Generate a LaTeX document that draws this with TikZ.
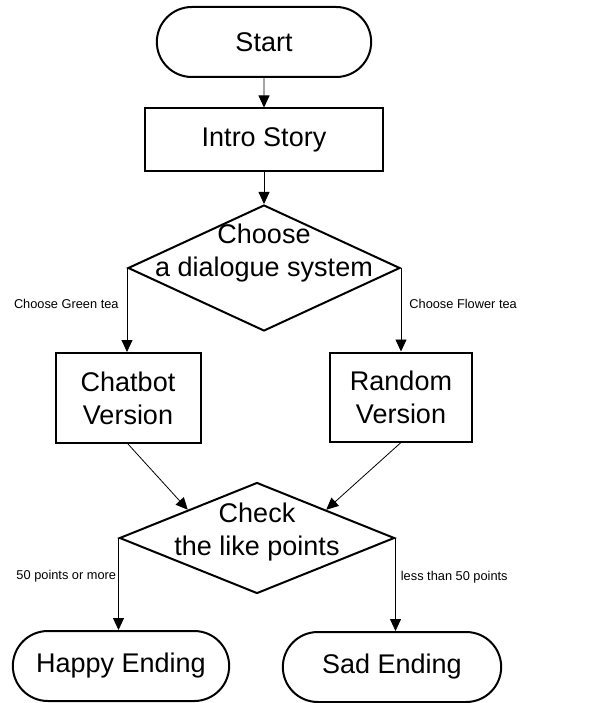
\documentclass[tikz,border=0pt]{standalone}
\usepackage{fontspec}
\setmainfont{Liberation Sans}
\usetikzlibrary{shapes.geometric,shapes.misc,arrows.meta}
\tikzset{
  big/.style={font=\fontsize{27}{33}\selectfont},
  small/.style={font=\fontsize{12.8}{14}\selectfont,inner sep=1pt},
  flow/.style={-{Triangle[length=12pt,width=11pt]},line width=0.8pt},
  terminal/.style={rounded rectangle,draw,line width=2pt,big,minimum
    width=#1,minimum height=70pt},
  block/.style={rectangle,draw,line width=2pt,big,align=center,minimum
    width=#1},
  decision/.style={diamond,draw,line width=2pt,inner sep=0pt,minimum
    width=#1}
}
\begin{document}
\begin{tikzpicture}[x=1pt,y=-1pt]
      \useasboundingbox (0,0) rectangle (599,703);
      \node (start) at (264,42) [terminal=221pt] {Start};
      \node (intro) at (264,140) [block=238pt,minimum height=63pt] {Intro Story};
      \node (choose) at (264,268) [decision=272pt,minimum height=126pt,
        label={[big,align=center,yshift=15pt]center:Choose\\a dialogue system}] {};
      \node (chatbot) at (128,398) [block=145pt,minimum height=90pt] {Chatbot\\Version};
      \node (random) at (401,397) [block=142pt,minimum height=89pt] {Random\\Version};
      \node (check) at (257,538) [decision=275pt,minimum height=111pt,
        label={[big,align=center,yshift=6pt]center:Check\\the like points}] {};
      \node (happy) at (121,666) [terminal=223pt] {Happy Ending};
      \node (sad) at (392,667) [terminal=225pt] {Sad Ending};
      \draw[flow] (start) -- (intro);
      \draw[flow] (intro) -- (choose);
      \draw[flow] (choose.west) -- node[small,pos=0.43,left=7pt] {Choose Green tea}
        (choose.west |- chatbot.north);
      \draw[flow] (choose.east) -- node[small,pos=0.43,right=7pt] {Choose Flower tea}
        (choose.east |- random.north);
      \draw[flow] (chatbot.south) -- (check.north west);
      \draw[flow] (random.south) -- (check.north east);
      \draw[flow] (check.west) -- node[small,pos=0.42,left=1pt] {50 points or more}
        (check.west |- happy.north);
      \draw[flow] (check.east) -- node[small,pos=0.42,right=4pt] {less than 50 points}
        (check.east |- sad.north);
    \end{tikzpicture}
\end{document}
